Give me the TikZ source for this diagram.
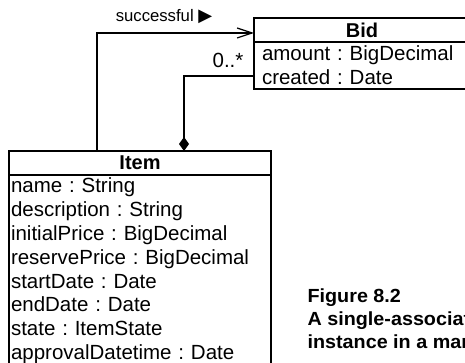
\documentclass[tikz,border=0pt]{standalone}
\usepackage{fontspec}
\setsansfont{Liberation Sans}
\newfontfamily\symbolfont{DejaVu Sans}
\newfontfamily\figcapfont[FakeStretch=1.04]{Liberation Sans}
\usetikzlibrary{arrows.meta,positioning,calc}

\begin{document}
\frenchspacing
\begin{tikzpicture}[x=1pt, y=1pt, line width=1.2pt,
    font=\sffamily\fontsize{20.5}{23.8}\selectfont,
    classtitle/.style={rectangle, draw, inner sep=0pt, outer sep=0pt, minimum height=24pt, font=\sffamily\bfseries\fontsize{20}{24}\selectfont},
    classattrs/.style={rectangle, draw, outer sep=0pt, inner ysep=3pt, align=left}]
  \useasboundingbox (0,0) rectangle (465,-363);
  \clip (0,0) rectangle (465,-363);

  % Bid class
  \node[classtitle, minimum width=216pt, anchor=north west] (bidTitle) at (254,-18) {Bid};
  \node[classattrs, inner xsep=8pt, text width=200pt, minimum height=47pt, below=0pt of bidTitle] (bidAttrs) {amount : BigDecimal\\created : Date};

  % Item class
  \node[classtitle, minimum width=262pt, anchor=north west] (itemTitle) at (9,-151) {Item};
  \node[classattrs, inner xsep=2pt, text width=258pt, below=0pt of itemTitle] (itemAttrs) {name : String\\description : String\\initialPrice : BigDecimal\\reservePrice : BigDecimal\\startDate : Date\\endDate : Date\\state : ItemState\\approvalDatetime : Date};

  % successful association
  \draw[-{Straight Barb[length=15pt, width=10pt]}] ($(itemTitle.north west)+(88,0)$) |- ($(bidTitle.south west)+(0,9)$);
  \node[anchor=base, font=\sffamily\fontsize{16.7}{20}\selectfont] (succLabel) at (164,-22) {successful {\symbolfont\fontsize{18}{20}\selectfont ▶}};

  % composition
  \draw[{Diamond[length=14pt, width=10pt]}-] ($(itemTitle.north west)+(175,0)$) |- ($(bidAttrs.south west)+(0,13)$);
  \node[anchor=base] (multBid) at (228,-68) {0..*};

  % caption
  \node[anchor=north west, inner sep=0pt, align=left, font=\figcapfont\bfseries\fontsize{19}{22.7}\selectfont] (caption) at (307,-288.5) {Figure 8.2\\A single-association that references an\\instance in a many-valued association};
\end{tikzpicture}
\end{document}
